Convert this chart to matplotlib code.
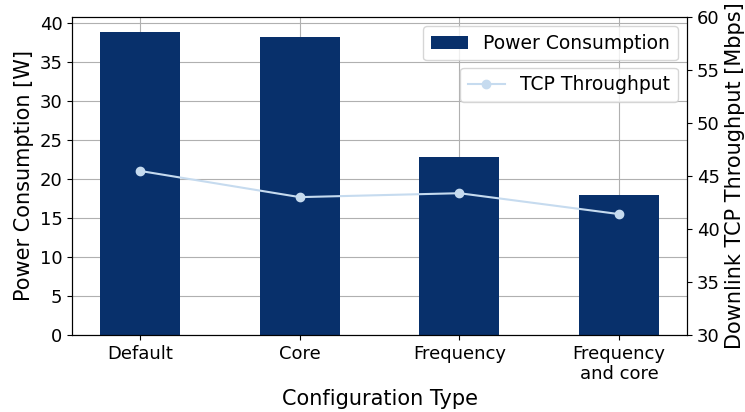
import numpy as np
import matplotlib
matplotlib.use("Agg")
import matplotlib.pyplot as plt

# Dane
configs = ['Default', 'Core', 'Frequency', 'Frequency\nand core']
power_w = [38.9, 38.25, 22.9, 18.0]
tcp_mbps = [45.47, 43.0, 43.37, 41.4]

bar_color = '#08306b'
line_color = '#c6dbef'

fig, ax = plt.subplots(figsize=(7.45, 4.12), dpi=100)
fig.subplots_adjust(left=0.097, right=0.922, top=0.959, bottom=0.187)

x = np.arange(len(configs))
ax.bar(x, power_w, width=0.5, color=bar_color, label='Power Consumption', zorder=2)
ax.set_xticks(x)
ax.set_xticklabels(configs, fontsize=13)
ax.tick_params(axis='y', labelsize=13)
ax.set_xlabel('Configuration Type', fontsize=15)
ax.set_ylabel('Power Consumption [W]', fontsize=15)
ax.set_yticks(np.arange(0, 41, 5))
ax.grid(True, zorder=0)
ax.set_axisbelow(True)
ax.legend(loc='upper right', fontsize=13.5)

ax2 = ax.twinx()
ax2.plot(x, tcp_mbps, '-o', color=line_color, label='TCP Throughput')
ax2.set_ylim(30, 60)
ax2.tick_params(axis='y', labelsize=13)
ax2.set_ylabel('Downlink TCP Throughput [Mbps]', fontsize=15)
ax2.legend(loc='upper right', bbox_to_anchor=(1, 0.87), fontsize=13.5)

plt.savefig('out.png', dpi=100)
plt.close()
